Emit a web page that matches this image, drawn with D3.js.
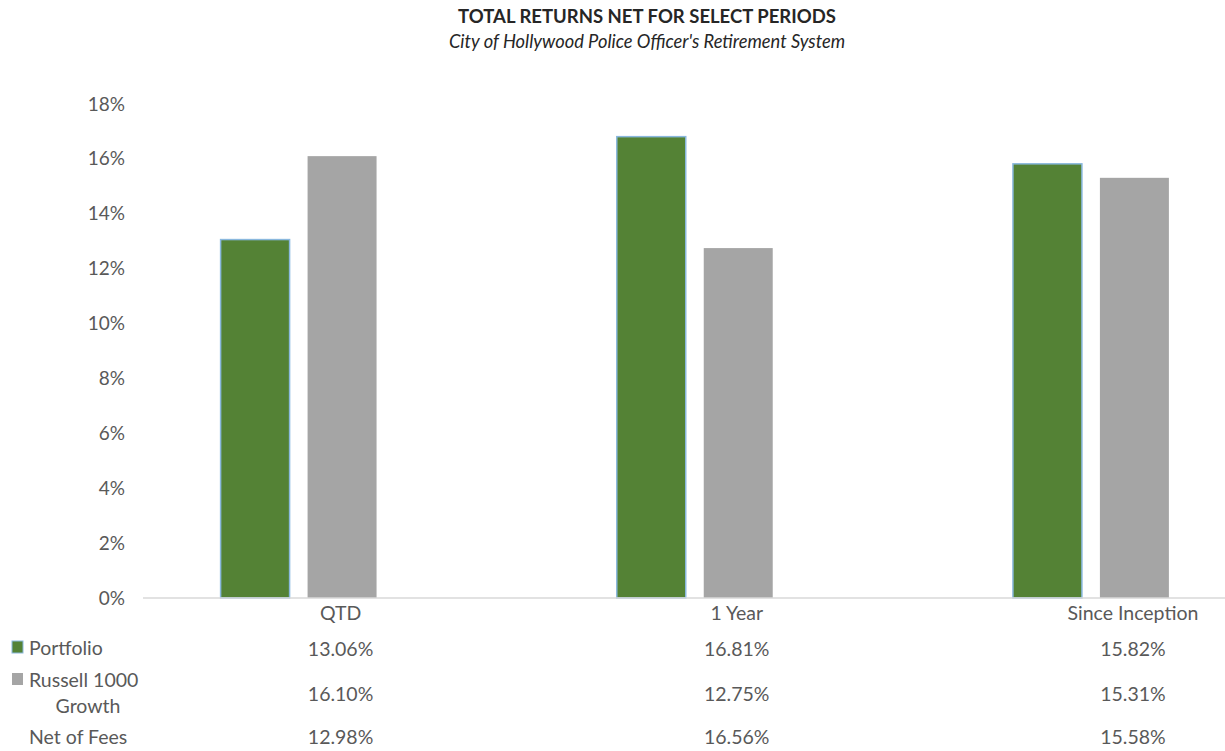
<!DOCTYPE html>
<html>
<head>
<meta charset="utf-8">
<script src="https://cdn.jsdelivr.net/npm/d3@7.9.0/dist/d3.min.js"></script>
<style>
  body { margin: 0; background: #fff; }
  svg { display: block; font-family: Lato, 'Open Sans', sans-serif; }
</style>
</head>
<body>
<svg id="chart" width="1225" height="751"></svg>
<script>
const categories = ['QTD', '1 Year', 'Since Inception'];
const portfolio = [13.06, 16.81, 15.82];
const russell = [16.10, 12.75, 15.31];
const netOfFees = [12.98, 16.56, 15.58];
const yTicks = [0, 2, 4, 6, 8, 10, 12, 14, 16, 18];

const svg = d3.select('#chart');
const textColor = '#595959';

// title
svg.append('text')
  .attr('x', 647).attr('y', 23)
  .attr('text-anchor', 'middle')
  .attr('font-size', 18.5).attr('font-weight', 'bold')
  .attr('fill', '#262626')
  .text('TOTAL RETURNS NET FOR SELECT PERIODS');
svg.append('text')
  .attr('x', 647).attr('y', 48)
  .attr('text-anchor', 'middle')
  .attr('font-size', 18.3).attr('font-style', 'italic')
  .attr('fill', '#262626')
  .text("City of Hollywood Police Officer's Retirement System");

const y = d3.scaleLinear().domain([0, 18]).range([598, 104]);
const x = d3.scaleBand().domain(categories).range([100.5, 1289]);
const series = [
  { name: 'Portfolio', values: portfolio, color: '#548235' },
  { name: 'Russell', values: russell, color: '#a5a5a5' },
];
const xs = d3.scaleBand()
  .domain(series.map((s) => s.name))
  .range([0, x.bandwidth()])
  .paddingInner(18 / 87)
  .paddingOuter(1.381);

// y axis labels
const yAxis = d3.axisLeft(y)
  .tickValues(yTicks)
  .tickSize(0)
  .tickPadding(0)
  .tickFormat((d) => d + '%');
const yg = svg.append('g').attr('transform', 'translate(125,0)').call(yAxis);
yg.select('.domain').remove();
yg.selectAll('text')
  .attr('font-size', 19)
  .attr('font-family', 'Lato, sans-serif')
  .attr('fill', textColor);

// bars
series.forEach((s) => {
  svg.append('g')
    .selectAll('rect')
    .data(s.values)
    .join('rect')
    .attr('x', (d, i) => x(categories[i]) + xs(s.name))
    .attr('y', (d) => y(d))
    .attr('width', xs.bandwidth())
    .attr('height', (d) => y(0) - y(d))
    .attr('fill', s.color)
    .attr('stroke', s.name === 'Portfolio' ? '#8ab8de' : 'none')
    .attr('stroke-width', 1.5);
});

// baseline
svg.append('line')
  .attr('x1', 143).attr('x2', 1225)
  .attr('y1', y(0)).attr('y2', y(0))
  .attr('stroke', '#d9d9d9').attr('stroke-width', 1.5);

// data table
const colX = (c) => x(c) + x.bandwidth() / 2 + 42;
const rows = [
  { values: null, y: 613 },
  { values: portfolio, y: 649 },
  { values: russell, y: 694 },
  { values: netOfFees, y: 737 },
];
rows.forEach((r) => {
  svg.append('g')
    .selectAll('text')
    .data(categories)
    .join('text')
    .attr('x', (c) => colX(c))
    .attr('y', r.y)
    .attr('dy', '0.35em')
    .attr('text-anchor', 'middle')
    .attr('font-size', 19.5)
    .attr('fill', textColor)
    .text((c, i) => (r.values ? r.values[i].toFixed(2) + '%' : c));
});

// legend labels of the table
svg.append('rect').attr('x', 12).attr('y', 641).attr('width', 11).attr('height', 12)
  .attr('fill', '#548235').attr('stroke', '#8ab8de').attr('stroke-width', 1);
svg.append('rect').attr('x', 12).attr('y', 673).attr('width', 11).attr('height', 12)
  .attr('fill', '#a5a5a5');
const legendText = [
  { t: 'Portfolio', x: 29, y: 648, anchor: 'start' },
  { t: 'Russell 1000', x: 29, y: 680, anchor: 'start' },
  { t: 'Growth', x: 88, y: 706, anchor: 'middle' },
  { t: 'Net of Fees', x: 29, y: 737, anchor: 'start' },
];
svg.append('g')
  .selectAll('text')
  .data(legendText)
  .join('text')
  .attr('x', (d) => d.x)
  .attr('y', (d) => d.y)
  .attr('dy', '0.35em')
  .attr('text-anchor', (d) => d.anchor)
  .attr('font-size', 19.5)
  .attr('fill', textColor)
  .text((d) => d.t);
</script>
</body>
</html>
